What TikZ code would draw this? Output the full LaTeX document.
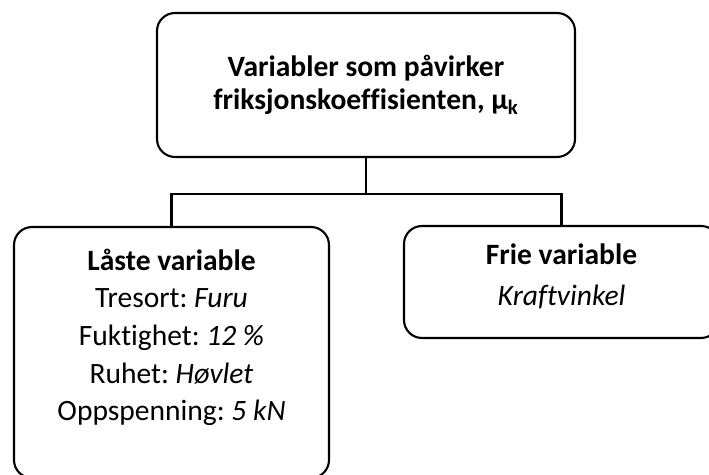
\documentclass[tikz,border=0pt]{standalone}
\usepackage{fontspec}
\setmainfont{Carlito}[Ligatures=NoCommon]
\frenchspacing
\usetikzlibrary{positioning}
\begin{document}
\begin{tikzpicture}[
	varbox/.style={rectangle, draw, rounded corners=0.45cm, line width=1.5pt, inner sep=0pt},
	vartext/.style={inner sep=0pt, align=center},
	branch/.style={line width=1.5pt}
	]
	
	\useasboundingbox (0,0) rectangle (17.725,11.875);
	
	%Top box
	\node (top) at (9.15, 9.75) [varbox, minimum width=10.45cm, minimum height=3.6cm, align=center,
	font=\fontsize{21}{23.5}\selectfont\bfseries]{Variabler som påvirker\\friksjonskoeffisienten, μ\textsubscript{k}};
	
	%Left box
	\node (locked) at (4.2875, 3.0625) [varbox, minimum width=7.875cm, minimum height=6.275cm]{};
	\node (lockedText) [vartext, below=0.56cm of locked.north, font=\fontsize{21}{26.8}\selectfont]{\textbf{Låste variable}\\Tresort: \textit{Furu}\\Fuktighet: \textit{12 \%}\\Ruhet: \textit{Høvlet}\\Oppspenning: \textit{5 kN}};
	
	%Right box
	\node (free) at (14.0375, 4.825) [varbox, minimum width=7.875cm, minimum height=2.8cm]{};
	\node (freeText) [vartext, below=0.46cm of free.north, font=\fontsize{21}{29.5}\selectfont]{\textbf{Frie variable}\\\textit{Kraftvinkel}};
	
	%Connectors
	\draw[branch] (top.south) -- ++(0,-0.9) coordinate (split);
	\draw[branch] (locked.north) |- (split) -| (free.north);
	
\end{tikzpicture}
\end{document}
